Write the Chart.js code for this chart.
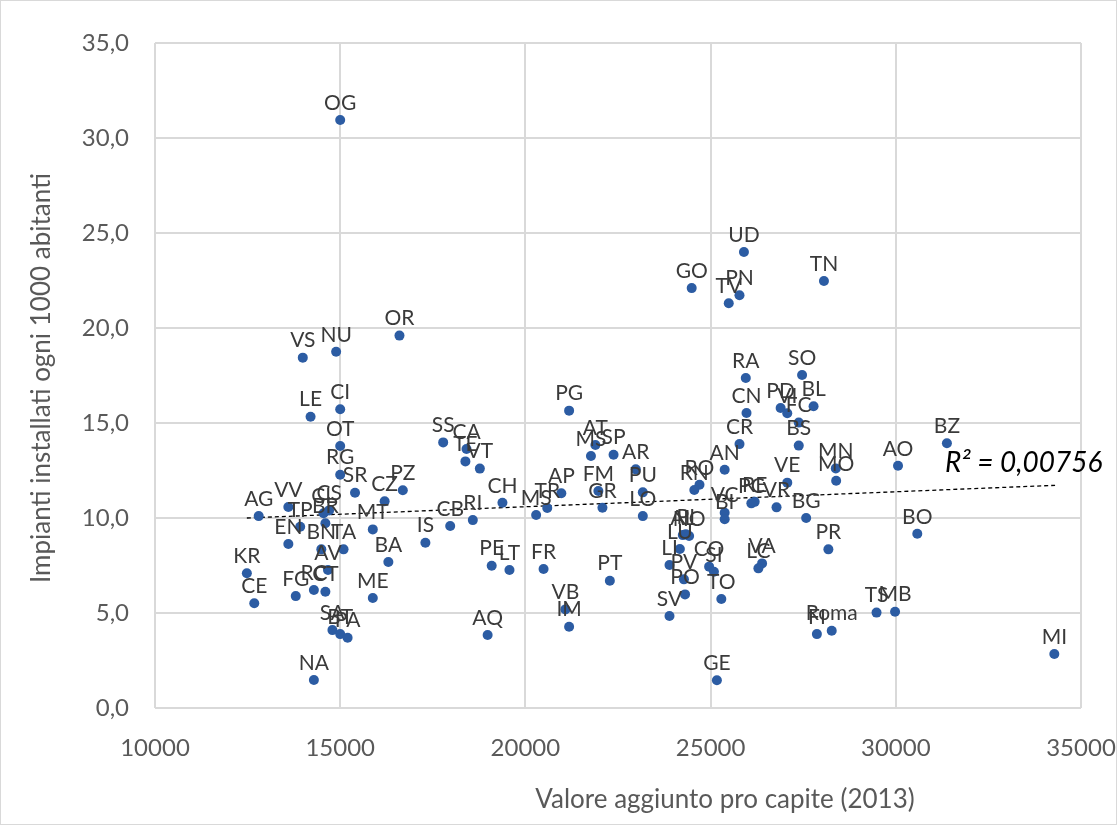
<!DOCTYPE html>
<html>
<head>
<meta charset="utf-8">
<script src="https://cdn.jsdelivr.net/npm/chart.js@4/dist/chart.umd.min.js"></script>
<style>
  html, body { margin: 0; padding: 0; background: #fff; }
  #wrap { width: 1117px; height: 825px; position: relative; box-sizing: border-box; border: 1px solid #d9d9d9; }
  canvas { display: block; }
</style>
</head>
<body>
<div id="wrap"><canvas id="chart" width="1115" height="823"></canvas></div>
<script>
// --- DATA ---
const sigle = [
  'OG','UD','TN','GO','PN','TV','OR','NU','VS','SO',
  'RA','BL','PD','CI','PG','CN','VI','LE','FC','SS',
  'BZ','CR','AT','BS','OT','CA','SP','MS','TE','AO',
  'MN','VT','AR','AN','RG','MO','VE','RO','RN','PZ',
  'FM','PU','SR','AP','CZ','RE','PC','CH','VR','GR',
  'TR','VV','CS','CL','VC','MS','AG','LO','BG','BI',
  'RI','BR','CB','TP','MT','BO','AL','PI','NO','IS',
  'EN','LU','BN','TA','PR','BA','VA','LI','CO','PE',
  'LC','FR','LT','AV','SI','KR','PV','PT','RC','CT',
  'PO','FG','ME','TO','CE','VB','MB','TS','SV','IM',
  'SA','Roma','FI','BT','AQ','PA','MI','NA','GE'
];
const valoreAggiunto = [
  15000, 25900, 28060, 24490, 25780, 25490, 16600, 14890, 13990, 27470,
  25950, 27780, 26890, 15000, 21180, 25970, 27070, 14200, 27380, 17780,
  31380, 25780, 21890, 27380, 15000, 18410, 22380, 21770, 18380, 30060,
  28380, 18770, 22980, 25380, 15000, 28390, 27070, 24700, 24560, 16690,
  21970, 23170, 15400, 20970, 16200, 26190, 26100, 19380, 26780, 22080,
  20590, 13600, 14700, 14550, 25380, 20290, 12800, 23170, 27580, 25380,
  18580, 14600, 17970, 13920, 15880, 30580, 24250, 24330, 24420, 17300,
  13600, 24170, 14490, 15090, 28180, 16300, 26390, 23890, 24960, 19090,
  26290, 20490, 19570, 14670, 25090, 12480, 24280, 22280, 14290, 14600,
  24310, 13800, 15880, 25290, 12680, 21080, 29980, 29480, 23890, 21180,
  14790, 28270, 27870, 15000, 18980, 15200, 34280, 14290, 25170
];
const impianti = [
  30.95, 24.0, 22.47, 22.1, 21.72, 21.3, 19.6, 18.75, 18.44, 17.53,
  17.37, 15.88, 15.79, 15.72, 15.65, 15.53, 15.51, 15.33, 15.02, 13.98,
  13.93, 13.89, 13.84, 13.81, 13.79, 13.63, 13.33, 13.26, 12.98, 12.75,
  12.61, 12.6, 12.56, 12.54, 12.28, 11.96, 11.86, 11.75, 11.47, 11.46,
  11.42, 11.35, 11.33, 11.3, 10.88, 10.85, 10.77, 10.8, 10.56, 10.54,
  10.53, 10.58, 10.4, 10.25, 10.28, 10.16, 10.1, 10.1, 10.0, 9.93,
  9.89, 9.72, 9.58, 9.54, 9.4, 9.17, 9.1, 9.15, 9.05, 8.7,
  8.63, 8.37, 8.35, 8.35, 8.35, 7.68, 7.61, 7.53, 7.44, 7.49,
  7.35, 7.32, 7.26, 7.26, 7.17, 7.09, 6.77, 6.7, 6.21, 6.12,
  5.98, 5.89, 5.79, 5.74, 5.51, 5.19, 5.07, 5.02, 4.84, 4.28,
  4.1, 4.07, 3.89, 3.89, 3.84, 3.7, 2.84, 1.47, 1.46
];
// linea di tendenza
const trendX = [12480, 34300];
const trendY = [10.0, 11.72];
const xTicks = [10000, 15000, 20000, 25000, 30000, 35000];
const yTicks = [0, 5, 10, 15, 20, 25, 30, 35];
const r2Text = 'R\u00b2 = 0,00756';

const THEME = {
  dot: '#2c5ca3',
  label: '#3a3a3a',
  tick: '#595959',
  grid: '#d9d9d9',
  font: "Lato, 'Open Sans', sans-serif"
};

// etichette sopra i punti, titoli assi, R²
const labelsPlugin = {
  id: 'labels',
  afterDatasetsDraw(chart) {
    const ctx = chart.ctx;
    const meta = chart.getDatasetMeta(0);
    ctx.save();
    ctx.fillStyle = THEME.label;
    ctx.font = '21px ' + THEME.font;
    ctx.textAlign = 'center';
    ctx.textBaseline = 'middle';
    meta.data.forEach((pt, i) => {
      ctx.fillText(sigle[i], pt.x, pt.y - 17);
    });
    ctx.restore();
  },
  afterDraw(chart) {
    const ctx = chart.ctx;
    ctx.save();
    ctx.fillStyle = THEME.tick;
    ctx.font = '26px ' + THEME.font;
    ctx.textAlign = 'center';
    ctx.textBaseline = 'middle';
    ctx.fillText('Valore aggiunto pro capite (2013)', 724, 799);
    ctx.translate(41, 377);
    ctx.rotate(-Math.PI / 2);
    ctx.fillText('Impianti installati ogni 1000 abitanti', 0, 0);
    ctx.restore();

    ctx.save();
    ctx.fillStyle = '#000';
    ctx.font = 'italic 28px ' + THEME.font;
    ctx.textAlign = 'left';
    ctx.textBaseline = 'middle';
    ctx.fillText(r2Text, 944, 462);
    ctx.restore();
  }
};

const ctx = document.getElementById('chart').getContext('2d');
new Chart(ctx, {
  type: 'scatter',
  data: {
    datasets: [{
      data: valoreAggiunto.map((v, i) => ({ x: v, y: impianti[i] })),
      backgroundColor: THEME.dot,
      borderWidth: 0,
      pointRadius: 5,
      pointHoverRadius: 5
    }, {
      type: 'line',
      data: trendX.map((v, i) => ({ x: v, y: trendY[i] })),
      borderColor: '#000',
      borderWidth: 1.3,
      borderDash: [4, 3],
      pointRadius: 0,
      fill: false
    }]
  },
  options: {
    responsive: false,
    animation: false,
    layout: { padding: { top: 42, right: 35, left: 0, bottom: 0 } },
    scales: {
      x: {
        type: 'linear',
        min: 10000,
        max: 35000,
        afterBuildTicks: s => { s.ticks = xTicks.map(v => ({ value: v })); },
        afterFit: s => {
          s.height = 823 - 707;
          s.paddingLeft = 0;
          s.paddingRight = 0;
        },
        ticks: {
          color: THEME.tick,
          font: { size: 24, family: THEME.font },
          padding: 26,
          maxRotation: 0,
          callback: v => String(v)
        },
        grid: { color: THEME.grid, lineWidth: 2, drawTicks: false },
        border: { display: false }
      },
      y: {
        min: 0,
        max: 35,
        afterBuildTicks: s => { s.ticks = yTicks.map(v => ({ value: v })); },
        afterFit: s => {
          s.width = 154;
          s.paddingTop = 0;
          s.paddingBottom = 0;
        },
        ticks: {
          color: THEME.tick,
          font: { size: 24, family: THEME.font },
          padding: 26,
          callback: v => v.toFixed(1).replace('.', ',')
        },
        grid: { color: THEME.grid, lineWidth: 2, drawTicks: false },
        border: { display: false }
      }
    },
    plugins: {
      legend: { display: false },
      tooltip: { enabled: false }
    }
  },
  plugins: [labelsPlugin]
});
</script>
</body>
</html>
